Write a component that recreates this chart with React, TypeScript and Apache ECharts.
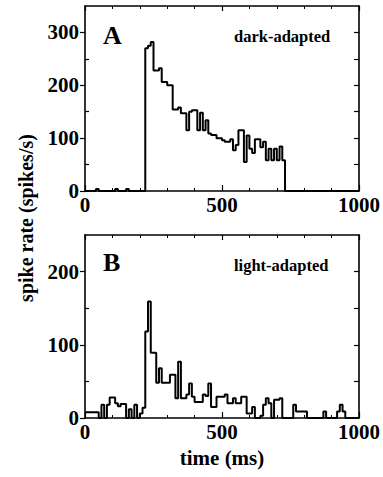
import React, { useEffect, useRef } from "react";
import * as echarts from "echarts";

const BIN_MS = 10;

// Panel A: dark-adapted spike rate (spikes/s), 10 ms bins from 0 to 1000 ms
const darkRate = [
  0, 0, 0, 0, 4, 0, 0, 0, 0, 0,
  0, 4, 0, 0, 0, 4, 0, 0, 0, 0,
  0, 0, 270, 275, 282, 228, 228, 232, 206, 206,
  200, 200, 154, 154, 158, 147, 147, 115, 150, 153,
  153, 115, 148, 115, 134, 109, 106, 106, 100, 100,
  96, 93, 93, 98, 77, 87, 115, 115, 55, 105,
  80, 72, 98, 98, 83, 93, 58, 80, 58, 80,
  58, 84, 58, 0, 0, 0, 0, 0, 0, 0,
  0, 0, 0, 0, 0, 0, 0, 0, 0, 0,
  0, 0, 0, 0, 0, 0, 0, 0, 0, 0,
];

// Panel B: light-adapted spike rate (spikes/s)
const lightRate = [
  8, 8, 8, 8, 8, 0, 18, 0, 18, 28,
  28, 20, 16, 19, 19, 0, 12, 0, 18, 0,
  6, 14, 118, 159, 89, 89, 48, 68, 48, 48,
  48, 59, 59, 27, 77, 27, 27, 32, 47, 29,
  22, 22, 22, 32, 30, 47, 15, 15, 29, 29,
  29, 32, 20, 20, 27, 20, 20, 29, 29, 6,
  6, 15, 0, 0, 3, 18, 27, 20, 0, 25,
  25, 27, 0, 0, 0, 0, 18, 9, 9, 9,
  9, 0, 0, 0, 0, 0, 0, 9, 0, 0,
  0, 0, 9, 18, 9, 0, 0, 0, 0, 0,
];

const xTickLabels = [0, 500, 1000];
const yTicksA = [0, 100, 200, 300];
const yTicksB = [0, 100, 200];
const panelLetters = ["A", "B"];
const panelNotes = ["dark-adapted", "light-adapted"];

const FONT = "Liberation Serif";

function stepData(values: number[]) {
  const pts: [number, number][] = values.map((v, i) => [i * BIN_MS, v]);
  pts.push([values.length * BIN_MS, values[values.length - 1]]);
  return pts;
}

export default function App() {
  const ref = useRef<HTMLDivElement>(null);
  useEffect(() => {
    if (!ref.current) return;
    const chart = echarts.init(ref.current, null, { renderer: "svg" });
    const black = "#000";
    const grids = [
      { left: 85, top: 6, width: 276, height: 185 },
      { left: 85, top: 235, width: 276, height: 183 },
    ];
    const ymax = [350, 250];
    const yTicks = [yTicksA, yTicksB];
    const xAxes: any[] = [];
    const yAxes: any[] = [];
    const lineW = 1.6;
    grids.forEach((_, g) => {
      xAxes.push({
        type: "value",
        gridIndex: g,
        min: 0,
        max: 1000,
        interval: 500,
        position: "bottom",
        axisLine: { show: true, onZero: false, lineStyle: { color: black, width: lineW } },
        axisTick: { show: true, inside: true, length: 6, lineStyle: { color: black, width: 1.2 } },
        minorTick: { show: true, splitNumber: 5, length: 3, lineStyle: { color: black, width: 1 } },
        axisLabel: {
          show: true,
          margin: 3,
          fontFamily: FONT,
          fontSize: 21,
          fontWeight: "bold",
          color: black,
          customValues: xTickLabels,
          formatter: (v: number) => String(v),
        },
        splitLine: { show: false },
      });
      xAxes.push({
        type: "value",
        gridIndex: g,
        min: 0,
        max: 1000,
        interval: 500,
        position: "top",
        axisLine: { show: true, onZero: false, lineStyle: { color: black, width: lineW } },
        axisTick: { show: true, inside: true, length: 5, lineStyle: { color: black, width: 1.2 } },
        minorTick: { show: true, splitNumber: 5, length: 3, lineStyle: { color: black, width: 1 } },
        axisLabel: { show: false },
        splitLine: { show: false },
      });
      const minors: number[] = [];
      for (let v = 50; v < ymax[g]; v += 100) minors.push(v);
      const allTicks: number[] = [];
      for (let v = 50; v < ymax[g]; v += 50) allTicks.push(v);
      yAxes.push({
        type: "value",
        gridIndex: g,
        min: 0,
        max: ymax[g],
        interval: 50,
        position: "left",
        axisLine: { show: true, onZero: false, lineStyle: { color: black, width: lineW } },
        axisTick: {
          show: true,
          inside: false,
          length: 5,
          customValues: yTicks[g],
          lineStyle: { color: black, width: 1.2 },
        },
        axisLabel: {
          show: true,
          margin: 6,
          fontFamily: FONT,
          fontSize: 21,
          fontWeight: "bold",
          color: black,
          customValues: yTicks[g],
        },
        splitLine: { show: false },
      });
      yAxes.push({
        type: "value",
        gridIndex: g,
        min: 0,
        max: ymax[g],
        interval: 50,
        position: "left",
        axisLine: { show: false, onZero: false },
        axisTick: {
          show: true,
          inside: true,
          length: 4,
          customValues: minors,
          lineStyle: { color: black, width: 1.2 },
        },
        axisLabel: { show: false },
        splitLine: { show: false },
      });
      yAxes.push({
        type: "value",
        gridIndex: g,
        min: 0,
        max: ymax[g],
        interval: 50,
        position: "right",
        axisLine: { show: true, onZero: false, lineStyle: { color: black, width: lineW } },
        axisTick: {
          show: true,
          inside: true,
          length: 5,
          customValues: allTicks,
          lineStyle: { color: black, width: 1.2 },
        },
        axisLabel: { show: false },
        splitLine: { show: false },
      });
    });

    const series = [darkRate, lightRate].map((vals, g) => ({
      type: "line",
      step: "end",
      xAxisIndex: g * 2,
      yAxisIndex: g * 3,
      data: stepData(vals),
      symbol: "none",
      lineStyle: { color: black, width: 2 },
      z: 5,
    }));

    const letterY = [35, 262];
    const noteY = [36, 265];
    const graphic: any[] = [];
    panelLetters.forEach((t, g) => {
      graphic.push({
        type: "text",
        x: 103,
        y: letterY[g],
        style: {
          text: t,
          font: `bold 26px "${FONT}"`,
          fill: black,
          textAlign: "left",
          textVerticalAlign: "middle",
        },
      });
      graphic.push({
        type: "text",
        x: 234,
        y: noteY[g],
        style: {
          text: panelNotes[g],
          font: `bold 16.5px "${FONT}"`,
          fill: black,
          textAlign: "left",
          textVerticalAlign: "middle",
        },
      });
    });
    graphic.push({
      type: "text",
      x: 26,
      y: 218,
      rotation: Math.PI / 2,
      style: {
        text: "spike rate (spikes/s)",
        font: `bold 20px "${FONT}"`,
        fill: black,
        textAlign: "center",
        textVerticalAlign: "middle",
      },
    });
    graphic.push({
      type: "text",
      x: 222,
      y: 458,
      style: {
        text: "time (ms)",
        font: `bold 21px "${FONT}"`,
        fill: black,
        textAlign: "center",
        textVerticalAlign: "middle",
      },
    });

    chart.setOption({
      animation: false,
      backgroundColor: "#fff",
      grid: grids,
      xAxis: xAxes,
      yAxis: yAxes,
      series,
      graphic,
    });
    return () => chart.dispose();
  }, []);
  return (
    <div
      ref={ref}
      style={{ position: "fixed", left: 0, top: 0, width: 383, height: 477 }}
    />
  );
}
